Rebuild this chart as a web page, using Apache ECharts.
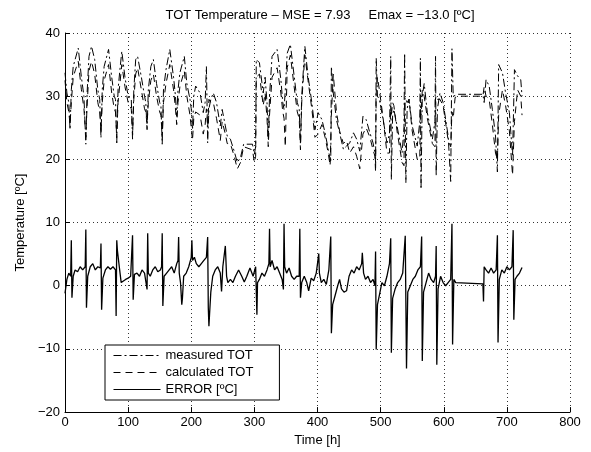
<!DOCTYPE html>
<html>
<head>
<meta charset="utf-8">
<script src="https://cdn.jsdelivr.net/npm/echarts@6/dist/echarts.min.js"></script>
<style>
  html, body { margin: 0; padding: 0; background: #fff; }
  #chart { width: 591px; height: 452px; }
</style>
</head>
<body>
<div id="chart"></div>
<script>
// time axis of the two temperature curves [h]
var totHours = [
  0,3,6,8,10,13,16,21,26,30,
  33,35,38,42,47,52,55,57,59,62,
  69,74,78,80,82,84,87,90,95,100,
  105,107,109,112,115,121,126,128,130,132,
  136,140,145,150,152,154,156,160,166,172,
  175,177,179,182,189,193,198,200,202,204,
  207,214,219,222,224,225,226,228,231,235,
  240,246,249,254,257,262,268,273,278,283,
  297,300,302,303,308,314,317,320,322,324,
  328,336,342,345,347,349,352,357,363,368,
  371,373,375,380,385,391,396,401,407,412,
  417,420,421,422,425,430,435,441,446,451,
  457,462,467,472,477,483,488,491,492,493,
  495,498,504,510,514,516,517,519,521,526,
  534,537,538,540,542,545,550,558,562,563,
  564,566,569,574,582,586,587,588,590,594,
  599,607,611,613,615,618,623,662,664,667,
  672,677,682,685,687,693,698,704,709,712,
  717,722,724
];
var measuredTOT = [
  33.7,30.5,29,24.7,31,34.7,35.8,37.6,33,30,
  22.4,30.5,36.3,37.9,35.8,31,29.5,23.4,31,34.7,
  37.4,33,30,29.5,22.6,31,34.2,37.1,33,30,
  29.5,23.2,31,35.8,36.3,33,30,29,24.7,31,
  34.7,35.8,32,29,28.4,22.4,31,34.2,37.4,33,
  30,26.8,31,33.7,36.3,32,29.5,28,24.7,30,
  31.6,30.5,27.4,29,34.7,29,22.6,28,29.5,30.5,
  29,25.3,27.9,25.3,23.7,23.2,21.3,19.5,20.3,22.4,
  22.4,20.8,22,35.8,35.3,30.5,33,29,23.2,30,
  36.3,37.4,32.6,29,27.9,31,36.8,38.2,33.2,29,
  28,22.4,30,37.9,33.2,29,24.7,27.4,26.3,24.2,
  21.6,20,19.5,34.7,30.5,26.3,24.2,21.6,22.1,22.6,
  24.2,23.2,21.3,26.8,26.3,24.2,22.6,21,19.5,36,
  30,29.5,26.3,22.6,24,36.3,16.8,27,27.9,25.3,
  21,25,36.8,16.3,28,29.5,25.3,22.1,26,36,
  15.3,30,32,27.4,23.2,26,36.3,17.4,28,30.5,
  29,23.7,16.5,37.5,30,30.2,30.3,30.3,29,32.6,
  31.6,27.9,23.7,18,35,33.7,30.5,27.4,20.5,34.2,
  33.2,32.6,30
];
var calculatedTOT = [
  32.5,29,27.5,25.5,29,33,34,35.5,31,28,
  23.5,28.5,34,35.5,33.5,29,27.5,24.5,29,32.5,
  35,30.5,28,27.5,23.5,29,32,35,31.5,29,
  28,24,29.5,33.5,34.5,31,28,27.5,25.5,29,
  32.5,33.5,30,27.5,27,23.5,29,32,35,31,
  28,25.5,29,31.5,34,30,27,25,23,26.5,
  27.5,27,24,25.5,28,27,25,29.5,29,29,
  26.5,23,26,24,22.5,22.5,20.5,18.5,19.5,22,
  21.5,19.5,20.5,33,33.5,28.5,30.5,26.5,22,27,
  33,34.5,30.5,27.5,26.5,22,34.5,36.5,31.5,27.5,
  26.5,21.5,29,36.5,32.5,28,23.5,24,25.5,23.5,
  21,19,19,27,33.5,27.5,24.5,22.5,23,21,
  22,20.5,18.5,24,25,23.5,21.5,20.5,18,30.5,
  33,31,26.5,21,21,28.5,27,29,28.5,24.5,
  19.5,19,29,29.5,29,29.5,24.5,20,20,28,
  27,31,30,26.5,22.5,22,30,30,29.5,29.5,
  28.5,23,22,27.5,26.5,29.8,30,30,31.5,30,
  29.5,25.5,21,20,27,31,28.5,24.5,17.5,26,
  31,30,27
];
// error curve [h] and [ºC]
var errHours = [
  0,3,6,9,10,11,13,16,20,24,
  28,32,33,34,36,40,44,48,52,56,
  57,58,60,64,68,72,76,80,81,82,
  83,86,89,92,96,100,104,106,107,108,
  110,114,118,122,126,130,131,132,135,139,
  143,147,151,153,154,155,157,161,165,169,
  173,177,179,180,181,183,185,186,188,192,
  196,200,201,202,205,208,212,216,220,224,
  226,227,228,229,231,234,238,242,246,248,
  250,254,256,258,262,266,270,275,280,284,
  288,293,298,302,304,305,308,312,316,320,
  323,324,325,328,332,336,340,344,346,347,
  348,351,355,359,363,367,371,372,373,375,
  379,383,386,390,394,398,400,402,403,406,
  410,414,418,421,422,424,428,432,435,438,
  442,446,450,454,458,462,466,470,471,473,
  476,480,484,488,491,492,493,495,499,502,
  506,510,514,516,517,519,523,527,531,535,
  539,541,543,547,551,555,559,563,565,566,
  568,572,576,580,584,587,588,589,591,595,
  599,603,607,611,613,614,616,619,622,662,
  663,664,667,671,675,679,683,685,686,688,
  692,696,700,704,708,710,711,713,716,720,
  724
];
var errValues = [
  -1.2,1,2,1.5,7.2,-1.9,1.5,2.5,2.2,3,
  2.5,3,8.9,-3.5,1.5,3,3.5,2.5,3,2.8,
  6.7,-3.8,1.2,2.5,3,2.6,3,2.5,-4.8,7.2,
  5.6,3,0.5,0.6,1,1.2,1.5,1.5,8,-2.2,
  1.8,2,1.5,2.5,2,-0.6,8.3,2,1.5,2.5,
  3,2.2,2.5,3,8.3,-3.2,1.5,2,2.5,3,
  2,3.5,4,7.7,2,0.5,-3,-2,1.5,2,
  3,4.5,7.2,4,4.5,3.5,3,3.5,4,4.5,
  7.7,-3.5,-6.4,-4.5,-1,1.5,2.5,3,2,-0.9,
  3,6.3,1.5,0.5,1,0.5,1.5,2.5,1.5,0.6,
  1.5,2.8,1.5,3,-4.6,0.5,1,2,1.5,2.5,
  3.5,9,3,4,2.5,3,2,1,-0.6,9.8,
  3,2,2.8,1.5,1,1.5,1.5,9,-1.9,0.5,
  1.5,0.5,-0.8,1.2,0.8,2,3.5,5.1,2,0.5,
  1,0.2,2.5,7.8,-7.5,-3,-1.5,0,1,-0.5,
  -1,-0.8,1.5,2.5,2,3,2.5,3.5,5.2,2,
  1,1.5,0.5,1,0,5.4,-10.1,-3,-1,0.5,
  0,1.5,3.5,7.5,-10.6,-2,-0.5,0.5,1,2,
  7.9,-13.1,-1,0,1,1.5,2.5,3,7.8,-11.9,
  -1,0.5,2,1,0.5,1.5,6.3,-12.5,-0.5,1.5,
  0.5,0,0.5,1,9.8,-9.3,1,0.5,0.3,0.3,
  -2.5,3,2.5,2,2.8,2,2.5,8,-9,1,
  2.5,2,3,2.5,3,8.8,-5.4,1,1.5,2,
  2.9
];
var seriesNames = ['measured TOT', 'calculated TOT', 'ERROR [ºC]'];

function pairs(xs, ys) {
  return xs.map(function (x, i) { return [x, ys[i]]; });
}
function minus(v) { return String(v).replace('-', '\u2212'); }

var font = 'Liberation Sans, Arial, Helvetica, sans-serif';
var chart = echarts.init(document.getElementById('chart'), null, { renderer: 'canvas' });

chart.setOption({
  animation: false,
  backgroundColor: '#fff',
  textStyle: { fontFamily: font, color: '#000' },
  title: {
    text: 'TOT Temperature \u2013 MSE = 7.93     Emax = \u221213.0 [\u00baC]',
    left: 315,
    textAlign: 'center',
    top: 4,
    textStyle: { fontFamily: font, fontSize: 13, fontWeight: 'normal', color: '#000' }
  },
  grid: { left: 65, right: 21, top: 33, bottom: 37, containLabel: false },
  legend: {
    orient: 'vertical',
    left: 105,
    top: 345,
    itemWidth: 47,
    itemHeight: 12,
    itemGap: 4,
    padding: [4, 26, 4, 8],
    borderColor: '#000',
    borderWidth: 1,
    backgroundColor: '#fff',
    selectedMode: false,
    itemStyle: { opacity: 0 },
    lineStyle: { width: 1 },
    textStyle: { fontFamily: font, fontSize: 13, color: '#000' },
    data: seriesNames
  },
  xAxis: {
    type: 'value',
    min: 0, max: 800, interval: 100,
    name: 'Time [h]',
    nameLocation: 'middle',
    nameGap: 20,
    nameTextStyle: { fontFamily: font, fontSize: 13, color: '#000' },
    axisLine: { show: true, onZero: false, lineStyle: { color: '#000', width: 1 } },
    axisTick: { show: true, inside: true, length: 5, lineStyle: { color: '#000' } },
    axisLabel: { fontFamily: font, fontSize: 13, color: '#000', margin: 4 },
    splitLine: { show: true, lineStyle: { color: '#333', type: [1, 3], width: 1 } }
  },
  yAxis: {
    type: 'value',
    min: -20, max: 40, interval: 10,
    name: 'Temperature [\u00baC]',
    nameLocation: 'middle',
    nameGap: 37,
    nameTextStyle: { fontFamily: font, fontSize: 13, color: '#000' },
    axisLine: { show: true, onZero: false, lineStyle: { color: '#000', width: 1 } },
    axisTick: { show: true, inside: true, length: 5, lineStyle: { color: '#000' } },
    axisLabel: { fontFamily: font, fontSize: 13, color: '#000', margin: 5, formatter: minus },
    splitLine: { show: true, lineStyle: { color: '#333', type: [1, 3], width: 1 } }
  },
  series: [
    {
      name: seriesNames[0],
      type: 'line',
      symbol: 'none',
      data: pairs(totHours, measuredTOT),
      lineStyle: { color: '#000', width: 1, type: [8, 3, 2, 3] },
      itemStyle: { color: '#000' }
    },
    {
      name: seriesNames[1],
      type: 'line',
      symbol: 'none',
      data: pairs(totHours, calculatedTOT),
      lineStyle: { color: '#000', width: 1, type: [7, 5] },
      itemStyle: { color: '#000' }
    },
    {
      name: seriesNames[2],
      type: 'line',
      symbol: 'none',
      data: pairs(errHours, errValues),
      lineStyle: { color: '#000', width: 1.3, type: 'solid' },
      itemStyle: { color: '#000' }
    }
  ]
});
</script>
</body>
</html>
